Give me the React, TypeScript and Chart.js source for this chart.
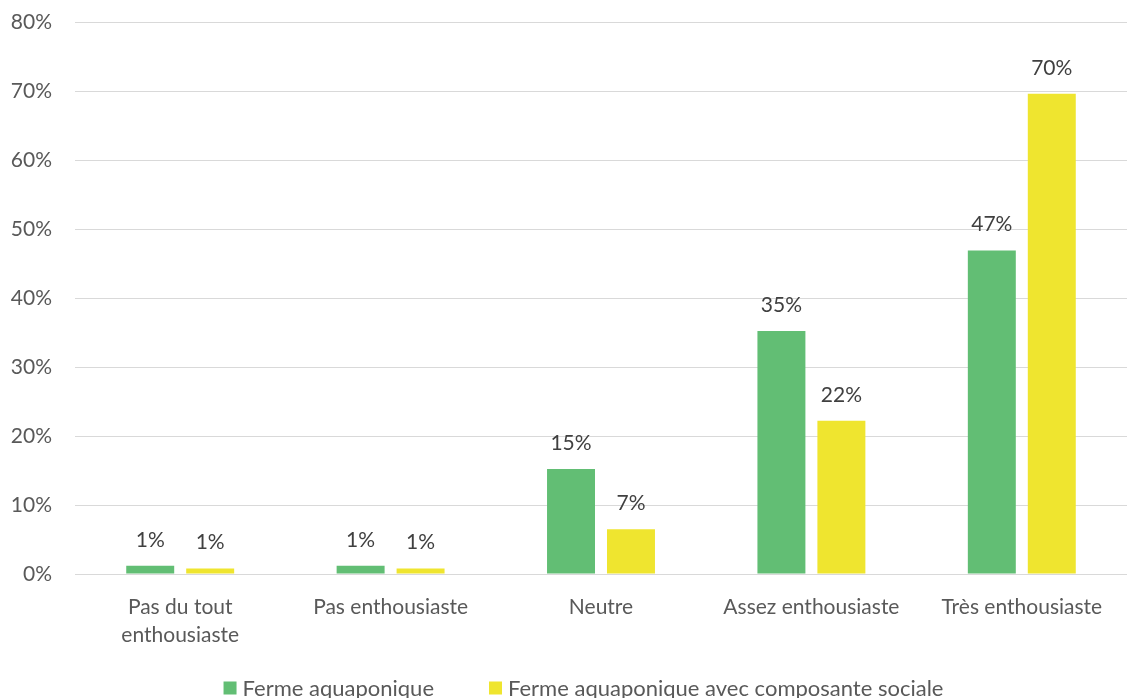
import React, { useEffect, useRef } from "react";
import { Chart, registerables } from "chart.js";

Chart.register(...registerables);

const categories: (string | string[])[] = [
  ["Pas du tout", "enthousiaste"],
  "Pas enthousiaste",
  "Neutre",
  "Assez enthousiaste",
  "Très enthousiaste",
];
const fermeAquaponique = [1.2, 1.2, 15.2, 35.2, 46.9];
const fermeSociale = [0.8, 0.8, 6.5, 22.2, 69.6];
const yTicks = [0, 10, 20, 30, 40, 50, 60, 70, 80];

const GREEN = "#62BE74";
const YELLOW = "#EFE52F";
const TEXT = "#595959";
const FONT = "Lato, 'Open Sans', sans-serif";

// Percent labels above each bar
const valueLabels = {
  id: "valueLabels",
  afterDatasetsDraw(chart: any) {
    const ctx = chart.ctx;
    ctx.save();
    ctx.font = `21px ${FONT}`;
    ctx.fillStyle = "#404040";
    ctx.textAlign = "center";
    ctx.textBaseline = "alphabetic";
    chart.data.datasets.forEach((ds: any, di: number) => {
      const meta = chart.getDatasetMeta(di);
      meta.data.forEach((bar: any, i: number) => {
        const v = ds.data[i] as number;
        ctx.fillText(`${Math.round(v)}%`, bar.x, bar.y - 19);
      });
    });
    ctx.restore();
  },
};

// Legend row along the bottom edge
const bottomLegend = {
  id: "bottomLegend",
  afterDraw(chart: any) {
    const ctx = chart.ctx;
    const box = 13;
    const textGap = 6;
    const itemGap = 55;
    ctx.save();
    ctx.font = `22px ${FONT}`;
    const items = chart.data.datasets.map((ds: any) => ({
      label: ds.label as string,
      color: ds.backgroundColor as string,
      w: ctx.measureText(ds.label).width,
    }));
    const total =
      items.reduce((s: number, it: any) => s + box + textGap + it.w, 0) +
      itemGap * (items.length - 1);
    let x = chart.width / 2 + 20 - total / 2;
    const cy = chart.height - 10;
    ctx.textBaseline = "middle";
    ctx.textAlign = "left";
    items.forEach((it: any) => {
      ctx.fillStyle = it.color;
      ctx.fillRect(x, cy - box / 2, box, box);
      x += box + textGap;
      ctx.fillStyle = TEXT;
      ctx.fillText(it.label, x, cy + 1);
      x += it.w + itemGap;
    });
    ctx.restore();
  },
};

export default function App() {
  const ref = useRef<HTMLCanvasElement | null>(null);

  useEffect(() => {
    document.body.style.margin = "0";
    if (!ref.current) return;
    const chart = new Chart(ref.current, {
      type: "bar",
      data: {
        labels: categories,
        datasets: [
          {
            label: "Ferme aquaponique",
            data: fermeAquaponique,
            backgroundColor: GREEN,
            categoryPercentage: 0.57,
            barPercentage: 0.8,
          },
          {
            label: "Ferme aquaponique avec composante sociale",
            data: fermeSociale,
            backgroundColor: YELLOW,
            categoryPercentage: 0.57,
            barPercentage: 0.8,
          },
        ],
      },
      options: {
        animation: false,
        responsive: false,
        layout: { padding: { top: 22, right: 0, left: 0, bottom: 0 } },
        plugins: {
          tooltip: { enabled: false },
          legend: { display: false },
        },
        scales: {
          x: {
            grid: { display: false },
            border: { display: false },
            ticks: {
              color: TEXT,
              font: { size: 21, family: FONT, lineHeight: 1.33 },
              padding: 11,
              maxRotation: 0,
              autoSkip: false,
            },
            afterFit(scale: any) {
              scale.height = 124;
            },
          },
          y: {
            min: 0,
            max: 80,
            afterBuildTicks(scale: any) {
              scale.ticks = yTicks.map((v) => ({ value: v }));
            },
            grid: { color: "#D9D9D9", lineWidth: 1, drawTicks: false },
            border: { display: false },
            ticks: {
              color: TEXT,
              font: { size: 21, family: FONT },
              padding: 23,
              callback: (v: any) => `${v}%`,
            },
            afterFit(scale: any) {
              scale.width = 75;
              scale.paddingTop = 0;
              scale.paddingBottom = 0;
            },
          },
        },
      },
      plugins: [valueLabels, bottomLegend],
    });
    return () => chart.destroy();
  }, []);

  return (
    <div style={{ position: "absolute", left: 0, top: 0, width: 1127, height: 698 }}>
      <canvas ref={ref} width={1127} height={698} />
    </div>
  );
}
